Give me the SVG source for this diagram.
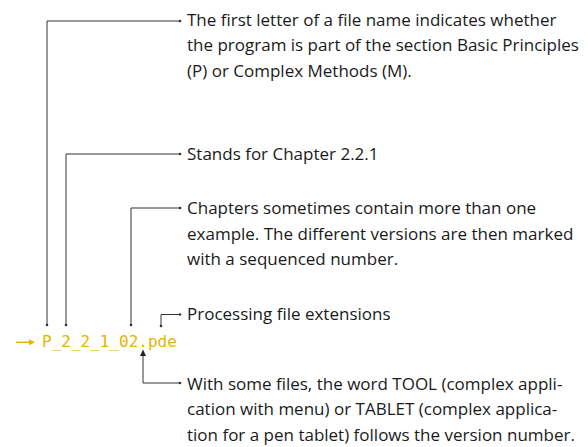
<svg xmlns="http://www.w3.org/2000/svg" width="588" height="447" viewBox="0 0 588 447">
<defs>
<style>
.t{font-family:"Open Sans","Noto Sans",sans-serif;font-size:17px;fill:#1a1a1a}
.f{font-family:"DejaVu Sans Mono","Liberation Mono",monospace;font-size:16px;fill:#e6b400}
.c{fill:none;stroke:#333;stroke-width:1}
</style>
<marker id="dot" markerWidth="4" markerHeight="4" refX="2" refY="2" markerUnits="userSpaceOnUse"><circle cx="2" cy="2" r="1.3" fill="#333"/></marker>
</defs>
<rect width="588" height="447" fill="#fff"/>
<g id="connectors">
<path class="c" d="M47,325 V21 H180" marker-start="url(#dot)" marker-end="url(#dot)"/>
<path class="c" d="M66,325 V154 H180" marker-start="url(#dot)" marker-end="url(#dot)"/>
<path class="c" d="M131,325 V208 H180" marker-start="url(#dot)" marker-end="url(#dot)"/>
<path class="c" d="M161,326 V314.5 H180" marker-start="url(#dot)" marker-end="url(#dot)"/>
<path class="c" d="M143,356 V383 H180" marker-end="url(#dot)"/>
<path d="M143,349.5 L140,356 L146,356 Z" fill="#222"/>
</g>
<g id="filename">
<path d="M16,342.3 H31" stroke="#e6b400" stroke-width="1.5" fill="none"/>
<path d="M35,342.3 L29,339.3 L29,345.3 Z" fill="#e6b400"/>
<text class="f" x="42" y="346.5">P_2_2_1_02.pde</text>
</g>
<g id="note-letter">
<text class="t" x="187" y="26">The first letter of a file name indicates whether</text>
<text class="t" x="187" y="51">the program is part of the section Basic Principles</text>
<text class="t" x="187" y="76.5">(P) or Complex Methods (M).</text>
</g>
<g id="note-chapter">
<text class="t" x="187" y="159.5">Stands for Chapter 2.2.1</text>
</g>
<g id="note-version">
<text class="t" x="187" y="214">Chapters sometimes contain more than one</text>
<text class="t" x="187" y="239.5">example. The different versions are then marked</text>
<text class="t" x="187" y="265">with a sequenced number.</text>
</g>
<g id="note-extension">
<text class="t" x="187" y="320">Processing file extensions</text>
</g>
<g id="note-tool">
<text class="t" x="187" y="389.5">With some files, the word TOOL (complex appli-</text>
<text class="t" x="187" y="415">cation with menu) or TABLET (complex applica-</text>
<text class="t" x="187" y="440.5">tion for a pen tablet) follows the version number.</text>
</g>
</svg>
